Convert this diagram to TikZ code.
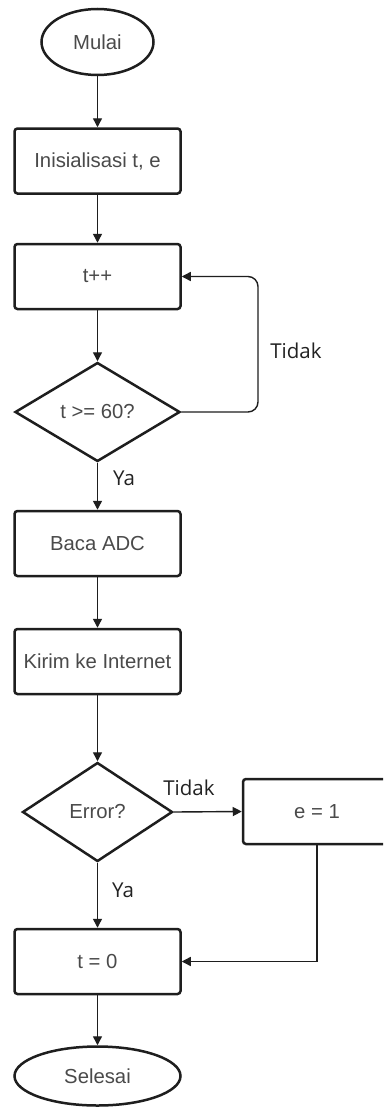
\documentclass[tikz,border=0pt]{standalone}
\usepackage{fontspec}
\setmainfont{Liberation Sans}
\newfontfamily\labelfont{Open Sans}
\usetikzlibrary{shapes.geometric,arrows.meta}
\definecolor{linec}{HTML}{1E1E1E}
\definecolor{textc}{HTML}{4A4A4A}
\definecolor{labc}{HTML}{222222}
\begin{document}
\begin{tikzpicture}[x=1pt,y=-1pt,
  base/.style={draw=linec, line width=2.5pt, inner sep=0pt, text=textc,
    font=\fontsize{20.3}{23}\selectfont},
  proc/.style={base, rectangle, rounded corners=3pt, minimum width=166pt, minimum height=65pt},
  term/.style={base, ellipse},
  decide/.style={base, diamond, aspect=1.67},
  conn/.style={draw=linec, line width=1.4pt, -{Triangle[length=9pt,width=9pt]}},
  lab/.style={text=labc, font=\labelfont\fontsize{20.5}{24}\selectfont, inner sep=0pt}
]
\useasboundingbox (0,0) rectangle (383,1108);
\clip (0,0) rectangle (383,1108);
\fill[white] (0,0) rectangle (383,1108);

\node[term, minimum width=112pt, minimum height=66pt] (mulai) at (97.5,42) {Mulai};
\node[proc] (init) at (97.5,161) {Inisialisasi t, e};
\node[proc] (inc) at (97.5,276.5) {t++};
\node[decide, minimum width=165pt, minimum height=99pt] (d1) at (97.5,412) {t >= 60?};
\node[proc] (adc) at (97.5,543.5) {Baca ADC};
\node[proc] (kirim) at (97.5,661.5) {Kirim ke Internet};
\node[decide, minimum width=150pt, minimum height=99pt] (d2) at (97.5,812) {Error?};
\node[proc, minimum width=148pt] (e1) at (317,811.5) {e = 1};
\node[proc] (t0) at (97.5,961.5) {t = 0};
\node[term, minimum width=166pt, minimum height=59pt] (selesai) at (97.5,1076) {Selesai};

\coordinate (loopb) at (258,412);
\coordinate (loopt) at (258,276.5);
\coordinate (ecorner) at (317,961.5);

\draw[conn] (mulai) -- (init);
\draw[conn] (init) -- (inc);
\draw[conn] (inc) -- (d1);
\draw[conn, rounded corners=10pt] (d1.east) -- (loopb) -- (loopt) -- (inc.east);
\draw[conn] (d1) -- (adc);
\draw[conn] (adc) -- (kirim);
\draw[conn] (kirim) -- (d2);
\draw[conn] (d2.east) -- (e1.west);
\draw[conn] (d2) -- (t0);
\draw[conn] (e1.south) -- (ecorner) -- (t0.east);
\draw[conn] (t0) -- (selesai);

\node[lab] (tidak1) at (296,351) {Tidak};
\node[lab] (ya1) at (124,478) {Ya};
\node[lab] (tidak2) at (189,788) {Tidak};
\node[lab] (ya2) at (123,890) {Ya};
\end{tikzpicture}
\end{document}
